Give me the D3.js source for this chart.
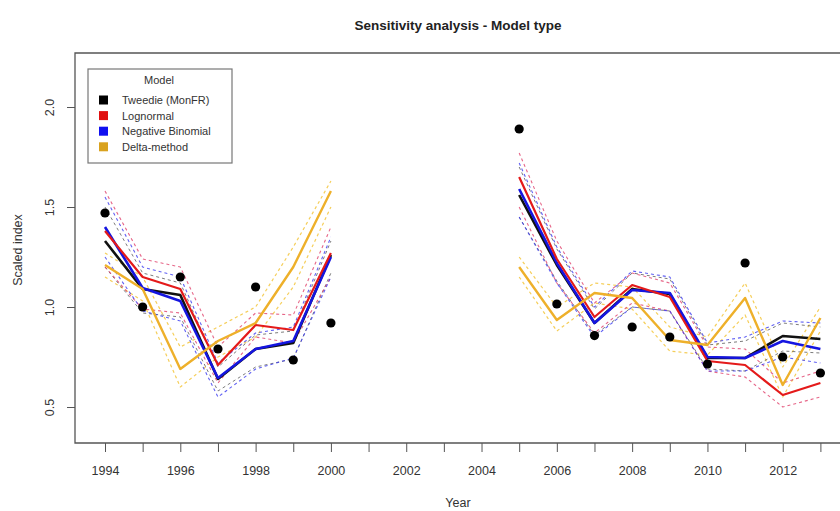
<!DOCTYPE html>
<html>
<head>
<meta charset="utf-8">
<script src="https://cdn.jsdelivr.net/npm/d3@7"></script>
<style>
  body { margin: 0; background: #fff; }
  svg { display: block; font-family: "Liberation Sans", Arial, sans-serif; }
</style>
</head>
<body>
<svg id="chart" width="840" height="511"></svg>
<script>
// data (scaled index per year)
const years = [1994, 1995, 1996, 1997, 1998, 1999, 2000,
               2005, 2006, 2007, 2008, 2009, 2010, 2011, 2012, 2013];

const tweediePts = [1.47, 1.00, 1.15, 0.79, 1.10, 0.735, 0.92,
                    1.89, 1.015, 0.857, 0.90, 0.85, 0.715, 1.22, 0.75, 0.67];
const tweedie    = [1.33, 1.09, 1.06, 0.64, 0.79, 0.82, 1.26,
                    1.56, 1.21, 0.92, 1.09, 1.065, 0.745, 0.745, 0.855, 0.84];
const tweedieHi  = [1.50, 1.17, 1.12, 0.70, 0.86, 0.88, 1.33,
                    1.70, 1.29, 0.99, 1.17, 1.14, 0.81, 0.83, 0.92, 0.90];
const tweedieLo  = [1.20, 0.97, 0.95, 0.58, 0.70, 0.74, 1.17,
                    1.45, 1.13, 0.86, 1.00, 0.98, 0.69, 0.68, 0.78, 0.77];

const lognormal   = [1.38, 1.15, 1.09, 0.71, 0.91, 0.885, 1.27,
                     1.65, 1.24, 0.95, 1.11, 1.05, 0.73, 0.71, 0.56, 0.62];
const lognormalHi = [1.58, 1.24, 1.20, 0.80, 0.97, 0.96, 1.40,
                     1.77, 1.33, 1.02, 1.17, 1.12, 0.80, 0.79, 0.62, 0.68];
const lognormalLo = [1.20, 0.99, 0.97, 0.62, 0.85, 0.82, 1.15,
                     1.50, 1.12, 0.87, 1.02, 0.98, 0.68, 0.65, 0.50, 0.55];

const negbin   = [1.40, 1.095, 1.03, 0.645, 0.79, 0.83, 1.25,
                  1.59, 1.22, 0.92, 1.085, 1.07, 0.75, 0.745, 0.83, 0.79];
const negbinHi = [1.55, 1.20, 1.15, 0.72, 0.87, 0.90, 1.35,
                  1.72, 1.30, 1.00, 1.18, 1.15, 0.82, 0.85, 0.93, 0.92];
const negbinLo = [1.25, 0.98, 0.93, 0.55, 0.69, 0.745, 1.15,
                  1.45, 1.12, 0.85, 1.00, 0.98, 0.68, 0.68, 0.75, 0.72];

const delta   = [1.21, 1.09, 0.69, 0.83, 0.92, 1.20, 1.58,
                 1.20, 0.935, 1.07, 1.045, 0.835, 0.81, 1.045, 0.61, 0.945];
const deltaHi = [1.27, 1.15, 0.80, 0.90, 1.00, 1.30, 1.63,
                 1.25, 1.00, 1.12, 1.10, 0.90, 0.85, 1.12, 0.70, 1.00];
const deltaLo = [1.15, 1.03, 0.60, 0.75, 0.85, 1.10, 1.50,
                 1.15, 0.88, 1.02, 0.99, 0.78, 0.76, 0.96, 0.55, 0.88];

const legendLabels = ["Tweedie (MonFR)", "Lognormal", "Negative Binomial", "Delta-method"];
const legendColors = ["#000000", "#e01010", "#1010f0", "#d9a21f"];
const yTicks = [0.5, 1.0, 1.5, 2.0];
const xTicks = d3.range(1994, 2014);

// layout
const plotLeft = 75, plotRight = 840, plotTop = 53, plotBottom = 443;

const svg = d3.select("#chart");

const x = d3.scaleLinear().domain([1994, 2013]).range([105, 820.4]);
const y = d3.scaleLinear().domain([0.32, 2.27]).range([plotBottom, plotTop]);

// plot box (l, t, b; right edge is at image border)
svg.append("path")
  .attr("d", `M${plotRight},${plotTop}H${plotLeft}V${plotBottom}H${plotRight}`)
  .attr("fill", "none").attr("stroke", "#555").attr("stroke-width", 1.3);

// axes
const xAxis = svg.append("g")
  .attr("transform", `translate(0,${plotBottom})`)
  .call(d3.axisBottom(x).tickValues(xTicks).tickSize(9).tickSizeOuter(0)
    .tickFormat(d => d % 2 === 0 ? d : ""));
xAxis.select(".domain").remove();
xAxis.selectAll(".tick line").attr("stroke", "#555");
xAxis.selectAll(".tick text")
  .attr("y", 23).attr("fill", "#333").attr("font-size", 12.5)
  .attr("font-family", "Liberation Sans, Arial, sans-serif");

const yAxis = svg.append("g")
  .attr("transform", `translate(${plotLeft},0)`)
  .call(d3.axisLeft(y).tickValues(yTicks).tickSize(8).tickFormat(d3.format(".1f")));
yAxis.select(".domain").remove();
yAxis.selectAll(".tick line").attr("stroke", "#555");
yAxis.selectAll(".tick text")
  .attr("x", 0).attr("dy", 0)
  .attr("transform", "translate(-25,0) rotate(-90)")
  .attr("text-anchor", "middle").attr("dominant-baseline", "central")
  .attr("fill", "#333").attr("font-size", 12.5)
  .attr("font-family", "Liberation Sans, Arial, sans-serif");

// titles
svg.append("text").attr("x", 458).attr("y", 30).attr("text-anchor", "middle")
  .attr("font-weight", "bold").attr("font-size", 13.5).attr("fill", "#222")
  .text("Sensitivity analysis - Model type");
svg.append("text").attr("x", 458).attr("y", 507).attr("text-anchor", "middle")
  .attr("font-size", 12.5).attr("fill", "#333").text("Year");
svg.append("text").attr("transform", "translate(22,250) rotate(-90)")
  .attr("text-anchor", "middle").attr("font-size", 12.5).attr("fill", "#333")
  .text("Scaled index");

// split each series at the gap in years
function segments(vals) {
  const segs = [];
  let cur = [];
  years.forEach((yr, i) => {
    if (i > 0 && yr - years[i - 1] > 1) { segs.push(cur); cur = []; }
    cur.push([yr, vals[i]]);
  });
  segs.push(cur);
  return segs;
}
const line = d3.line().x(d => x(d[0])).y(d => y(d[1]));

function drawLine(vals, color, width, dash, opacity) {
  svg.append("g").selectAll("path")
    .data(segments(vals))
    .join("path")
    .attr("d", line)
    .attr("fill", "none")
    .attr("stroke", color)
    .attr("stroke-width", width)
    .attr("stroke-dasharray", dash)
    .attr("stroke-opacity", opacity)
    .attr("stroke-linejoin", "round");
}

// confidence bands (dashed)
drawLine(deltaHi, "#f2c230", 1.2, "3,3", 0.8);
drawLine(deltaLo, "#f2c230", 1.2, "3,3", 0.8);
drawLine(tweedieHi, "#444", 1, "3,3", 0.7);
drawLine(tweedieLo, "#444", 1, "3,3", 0.7);
drawLine(lognormalHi, "#e0406a", 1.1, "3,3", 0.8);
drawLine(lognormalLo, "#e0406a", 1.1, "3,3", 0.8);
drawLine(negbinHi, "#3a3af0", 1.1, "3,3", 0.8);
drawLine(negbinLo, "#3a3af0", 1.1, "3,3", 0.8);

// model lines
drawLine(tweedie, "#111", 2.6, null, 1);
drawLine(negbin, "#1515e0", 2.6, null, 1);
drawLine(lognormal, "#e41a1a", 2.2, null, 1);
drawLine(delta, "#eeb02a", 2.4, null, 1);

// observed / Tweedie points
svg.append("g").selectAll("circle")
  .data(years.map((yr, i) => [yr, tweediePts[i]]))
  .join("circle")
  .attr("cx", d => x(d[0])).attr("cy", d => y(d[1]))
  .attr("r", 4.6).attr("fill", "#000");

// legend
const lg = svg.append("g");
lg.append("rect").attr("x", 88).attr("y", 69).attr("width", 144).attr("height", 94)
  .attr("fill", "#fff").attr("stroke", "#777").attr("stroke-width", 1.2);
lg.append("text").attr("x", 159).attr("y", 84).attr("text-anchor", "middle")
  .attr("font-size", 11).attr("fill", "#333").text("Model");
const rows = lg.selectAll("g.row").data(legendLabels).join("g")
  .attr("class", "row")
  .attr("transform", (d, i) => `translate(0,${100 + i * 15.6})`);
rows.append("rect").attr("x", 99).attr("y", -4.5).attr("width", 9).attr("height", 9)
  .attr("fill", (d, i) => legendColors[i]);
rows.append("text").attr("x", 122).attr("y", 4).attr("font-size", 11)
  .attr("fill", "#333").text(d => d);
</script>
</body>
</html>
